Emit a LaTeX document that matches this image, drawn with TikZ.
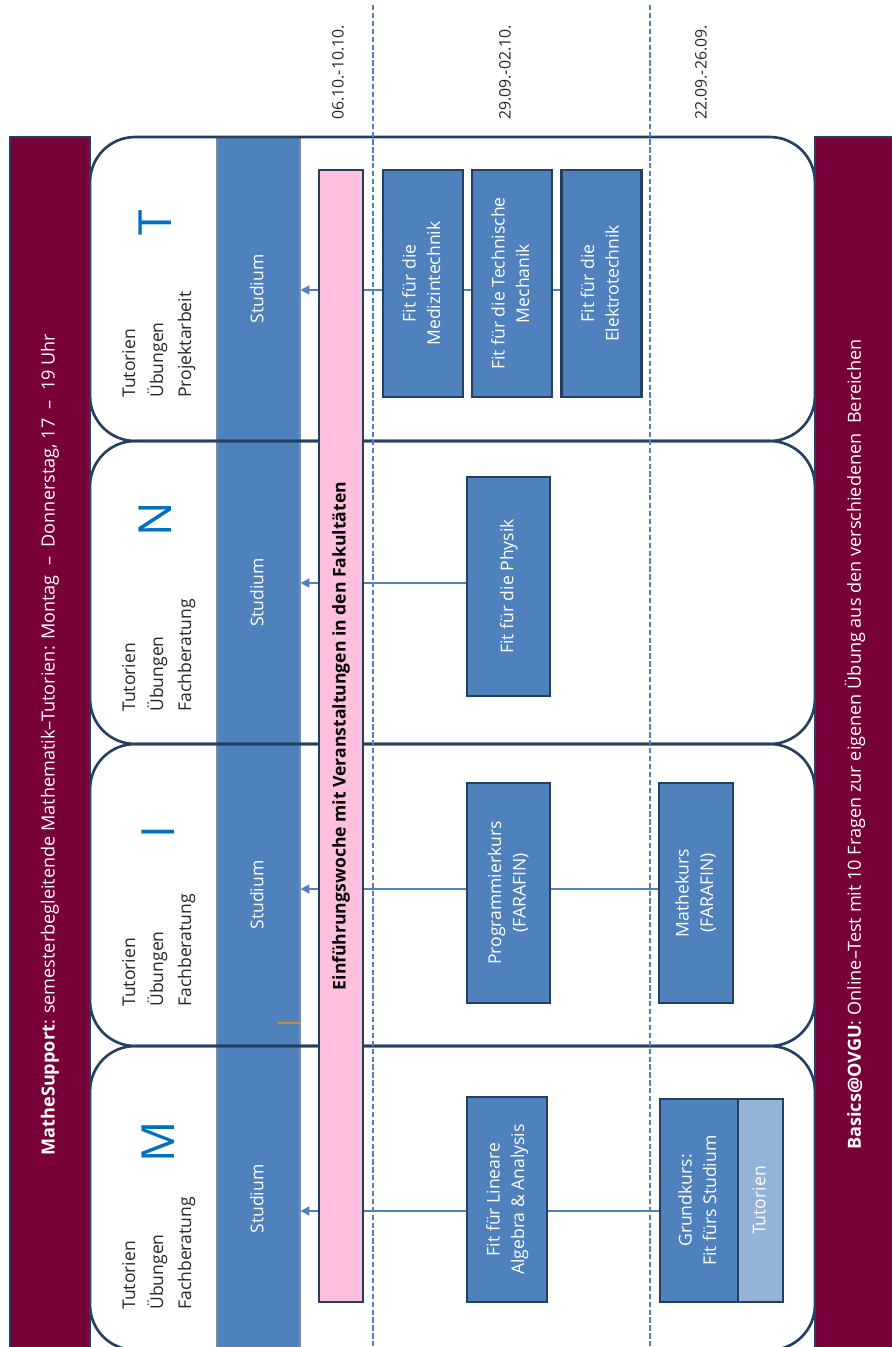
\documentclass[tikz,border=0pt]{standalone}
\usepackage{fontspec}
\setmainfont{Open Sans}
\usetikzlibrary{arrows.meta}
\definecolor{mathered}{RGB}{120,0,56}
\definecolor{navyline}{RGB}{36,64,97}
\definecolor{boxblue}{RGB}{79,129,189}
\definecolor{paleblue}{RGB}{149,179,215}
\definecolor{weekpink}{RGB}{255,191,223}
\definecolor{letterblue}{RGB}{0,112,192}
\definecolor{tickorange}{RGB}{205,140,60}
\newcommand{\upc}[1]{\rotatebox{90}{\begin{tabular}{@{}c@{}}#1\end{tabular}}}
\newcommand{\upl}[1]{\rotatebox{90}{\begin{tabular}{@{}l@{}}#1\end{tabular}}}

\begin{document}
\begin{tikzpicture}[
  x=0.02cm, y=-0.02cm,
  studbox/.style={draw=navyline!60, line width=0.6pt, fill=boxblue, text=white, inner sep=0pt, minimum width=1.66cm, font=\fontsize{10}{14}\selectfont},
  panel/.style={draw=navyline, line width=1.5pt, rounded corners=0.9cm, minimum width=14.5cm, inner sep=0pt},
  sidebar/.style={draw=navyline, line width=0.8pt, fill=mathered, text=white, inner sep=0pt, minimum width=1.6cm, minimum height=24.3cm, font=\fontsize{10.3}{14}\selectfont},
  fitbox/.style={draw=navyline, line width=1.6pt, fill=boxblue, text=white, inner sep=0pt, font=\fontsize{10}{14}\selectfont},
  link/.style={draw=boxblue, line width=1.2pt},
  arr/.style={link, -{Triangle[length=5pt,width=5pt]}},
  sepline/.style={draw=boxblue, line width=1.1pt, dash pattern=on 3pt off 1.5pt},
  lab/.style={inner sep=0pt, anchor=south, text=black!85, font=\fontsize{10}{16}\selectfont},
  letter/.style={inner sep=0pt, text=letterblue, font=\fontsize{26}{30}\selectfont},
  datum/.style={inner sep=0pt, anchor=south, text=black!85, font=\fontsize{9}{11}\selectfont}
]
  \useasboundingbox (0,0) rectangle (892,1347);

  % Studium
  \node[studbox, minimum height=6.08cm] (studT) at (258.5,289) {\upc{Studium}};
  \node[studbox, minimum height=6.06cm] (studN) at (258.5,592.5) {\upc{Studium}};
  \node[studbox, minimum height=6.04cm] (studI) at (258.5,895) {\upc{Studium}};
  \node[studbox, minimum height=6.12cm] (studM) at (258.5,1199) {\upc{Studium}};

  % Bereiche
  \node[panel, minimum height=6.08cm] (panelT) at (452.5,289) {};
  \node[panel, minimum height=6.06cm] (panelN) at (452.5,592.5) {};
  \node[panel, minimum height=6.04cm] (panelI) at (452.5,895) {};
  \node[panel, minimum height=6.08cm] (panelM) at (452.5,1198) {};

  \node[sidebar] (mathesupport) at (50,744.5) {\rotatebox{90}{\textbf{MatheSupport}: semesterbegleitende Mathematik–Tutorien: Montag \ – \ Donnerstag, 17 \ – \ 19 Uhr}};
  \node[sidebar] (basics) at (855,744.5) {\rotatebox{90}{\textbf{Basics@OVGU}: Online–Test mit 10 Fragen zur eigenen Übung aus den verschiedenen \ Bereichen}};

  \node[draw=navyline, line width=1.3pt, fill=weekpink, inner sep=0pt, minimum width=0.88cm, minimum height=22.64cm, font=\fontsize{10}{14}\selectfont] (woche) at (341,736) {\rotatebox{90}{\textbf{Einführungswoche mit Veranstaltungen in den Fakultäten}}};

  % Kurse
  \node[fitbox, minimum width=1.6cm, minimum height=4.54cm] (fitmed) at (423,283.5) {\upc{Fit für die\\Medizintechnik}};
  \node[fitbox, minimum width=1.6cm, minimum height=4.54cm] (fitmech) at (512,283.5) {\upc{Fit für die Technische\\Mechanik}};
  \node[fitbox, minimum width=1.6cm, minimum height=4.54cm] (fitelt) at (601.5,283.5) {\upc{Fit für die\\Elektrotechnik}};
  \node[fitbox, minimum width=1.66cm, minimum height=4.38cm] (fitphys) at (508.5,586.5) {\upc{Fit für die Physik}};
  \node[fitbox, minimum width=1.66cm, minimum height=4.4cm] (progkurs) at (508.5,893) {\upc{Programmierkurs\\(FARAFIN)}};
  \node[fitbox, minimum width=1.48cm, minimum height=4.4cm] (mathekurs) at (696,893) {\upc{Mathekurs\\(FARAFIN)}};
  \node[fitbox, minimum width=1.6cm, minimum height=4.1cm] (fitlina) at (507,1199.5) {\upc{Fit für Lineare\\Algebra \& Analysis}};
  \node[fitbox, minimum width=1.56cm, minimum height=4.06cm] (grundkurs) at (699,1200.5) {\upc{Grundkurs:\\Fit fürs Studium}};
  \node[fitbox, fill=paleblue, minimum width=0.9cm, minimum height=4.06cm] (grundtut) at (760.5,1200.5) {\upc{Tutorien}};

  % Verbindungen
  \coordinate (rowT) at (0,290);
  \coordinate (rowN) at (0,583);
  \coordinate (rowI) at (0,889);
  \coordinate (rowM) at (0,1211);
  \draw[arr] (woche.west |- rowT) -- (studT.east |- rowT);
  \draw[link] (woche.east |- rowT) -- (fitmed.west |- rowT);
  \draw[link] (fitmed.east |- rowT) -- (fitmech.west |- rowT);
  \draw[link] (fitmech.east |- rowT) -- (fitelt.west |- rowT);
  \draw[arr] (woche.west |- rowN) -- (studN.east |- rowN);
  \draw[link] (woche.east |- rowN) -- (fitphys.west |- rowN);
  \draw[arr] (woche.west |- rowI) -- (studI.east |- rowI);
  \draw[link] (woche.east |- rowI) -- (progkurs.west |- rowI);
  \draw[link] (progkurs.east |- rowI) -- (mathekurs.west |- rowI);
  \draw[arr] (woche.west |- rowM) -- (studM.east |- rowM);
  \draw[link] (woche.east |- rowM) -- (fitlina.west |- rowM);
  \draw[link] (fitlina.east |- rowM) -- (grundkurs.west |- rowM);

  % Wochen
  \coordinate (sepA) at (373,5);
  \coordinate (sepB) at (650,5);
  \draw[sepline] (sepA) -- (sepA |- 0,1347);
  \draw[sepline] (sepB) -- (sepB |- 0,1347);
  \node[datum] (wocheA) at (338,120) {\rotatebox{90}{06.10.-10.10.}};
  \node[datum] (wocheB) at (505,120) {\rotatebox{90}{29.09.-02.10.}};
  \node[datum] (wocheC) at (701,120) {\rotatebox{90}{22.09.-26.09.}};

  % Beschriftung
  \node[lab] (labT) at (157.5,398) {\upl{Tutorien\\Übungen\\Projektarbeit}};
  \node[lab] (labN) at (157.5,712) {\upl{Tutorien\\Übungen\\Fachberatung}};
  \node[lab] (labI) at (157.5,1007) {\upl{Tutorien\\Übungen\\Fachberatung}};
  \node[lab] (labM) at (157.5,1310) {\upl{Tutorien\\Übungen\\Fachberatung}};
  \node[letter] (letT) at (155,223) {\rotatebox{90}{T}};
  \node[letter] (letN) at (155,519) {\rotatebox{90}{N}};
  \node[letter] (letI) at (158,832) {\rotatebox{90}{I}};
  \node[letter] (letM) at (158,1142) {\rotatebox{90}{M}};

  \draw[tickorange, line width=1.2pt] (278,1023) -- (300,1023);
\end{tikzpicture}
\end{document}
